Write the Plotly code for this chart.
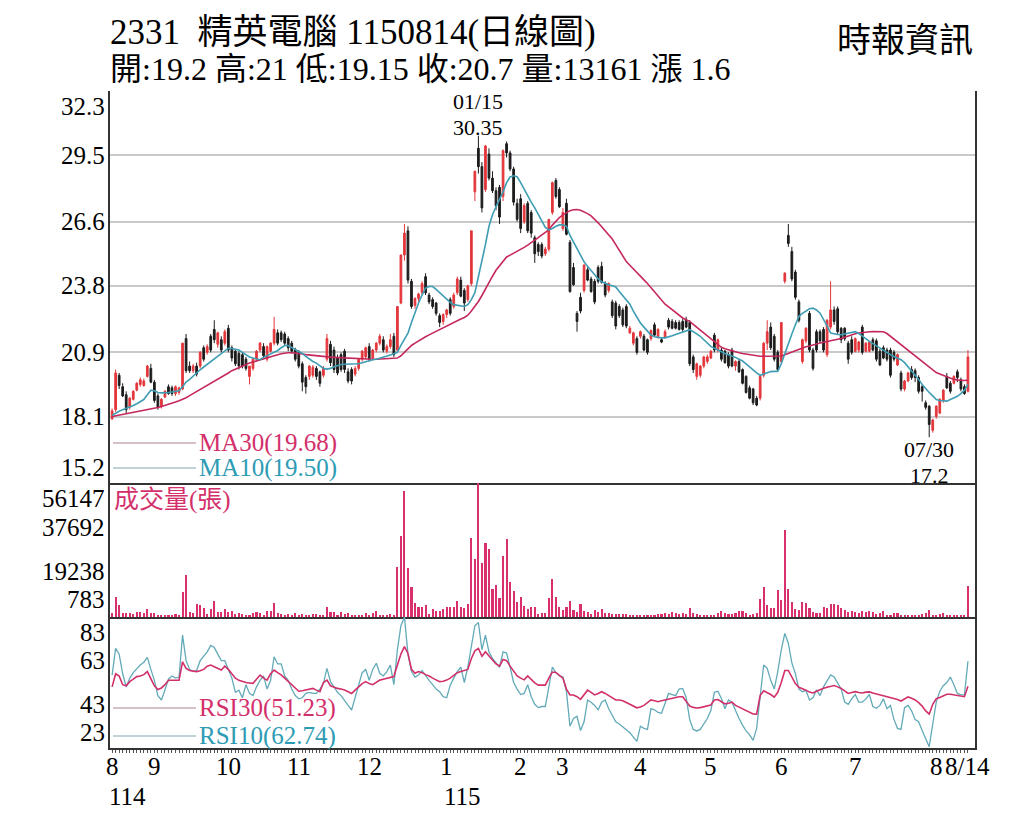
import pandas as pd
import plotly.graph_objects as go
from plotly.subplots import make_subplots

# --- trading days, 2025-08-14 .. 2026-08-14 (TWSE closed days removed) ---
HOLIDAYS = [
    "2025-09-29", "2025-10-06", "2025-10-10", "2025-10-24", "2025-12-25",
    "2026-01-01", "2026-02-12", "2026-02-13", "2026-02-16", "2026-02-17",
    "2026-02-18", "2026-02-19", "2026-02-20", "2026-02-27", "2026-04-03",
    "2026-04-06", "2026-05-01", "2026-06-19",
]
dates = [d.strftime("%Y-%m-%d") for d in pd.bdate_range("2025-08-14", "2026-08-14")
         if d.strftime("%Y-%m-%d") not in HOLIDAYS]

tick_dates = ["2025-08-14", "2025-09-01", "2025-10-01", "2025-11-03", "2025-12-01",
              "2026-01-02", "2026-02-02", "2026-03-02", "2026-04-01", "2026-05-04",
              "2026-06-01", "2026-07-01", "2026-08-03", "2026-08-14"]
tick_text = ["8", "9", "10", "11", "12", "1", "2", "3", "4", "5", "6", "7", "8", "8/14"]
year_dates = ["2025-08-14", "2026-01-02"]
year_text = ["114", "115"]

price_ticks = [32.3, 29.5, 26.6, 23.8, 20.9, 18.1, 15.2]
vol_ticks = [56147, 37692, 19238, 783]
rsi_ticks = [83, 63, 43, 23]

opens = [
    18.0, 18.4, 19.9, 19.4, 19.05, 18.5, 18.85, 19.25, 19.5, 19.45, 19.85, 20.2,  # aug
    19.6, 19.0, 18.55, 18.95, 19.4, 19.35, 19.1, 19.15, 19.3, 21.5, 20.3, 20.1, 20.3, 20.3,
    21.1, 20.9, 21.6, 21.9, 21.25, 21.45, 21.3,  # sep
    21.95, 21.1, 20.95, 20.85, 20.8, 20.6, 19.85, 20.2, 20.6, 21.0, 21.15, 20.6, 20.95, 21.3,
    21.75, 21.75, 21.7, 21.5, 21.3, 21.0,  # oct
    20.9, 20.4, 19.8, 19.85, 19.9, 20.2, 20.05, 19.9, 20.6, 21.25, 21.0, 20.65, 20.8, 20.95,
    20.05, 20.15, 19.95, 20.2, 20.6, 20.7,  # nov
    21.15, 20.65, 21.0, 21.3, 21.45, 20.95, 21.15, 21.6, 21.0, 23.05, 25.15, 26.2, 24.0, 22.95,
    23.25, 23.5, 24.2, 23.4, 23.2, 23.05, 22.5, 22.25,  # dec
    22.55, 23.2, 22.9, 23.5, 24.05, 23.6, 23.2, 23.9, 27.9, 29.8, 29.0, 28.0, 29.55, 28.5,
    27.95, 28.1, 27.7, 30.0, 29.6, 28.9, 27.4,  # jan
    27.6, 26.6, 27.4, 27.0, 25.9, 25.6, 25.6, 25.2, 25.4, 27.0, 28.4, 28.0,  # feb
    26.3, 27.4, 25.7, 24.6, 22.6, 23.3, 23.6, 24.5, 24.1, 24.0, 24.6, 24.65, 23.9, 23.6,
    23.1, 23.05, 22.9, 22.75, 22.9, 21.75, 21.3, 21.5,  # mar
    21.6, 21.6, 21.45, 21.5, 22.1, 21.6, 21.45, 21.55, 22.3, 22.25, 22.2, 22.2, 22.25, 22.3,
    22.2, 20.7, 19.85, 19.9, 20.3, 20.5,  # apr
    20.65, 21.65, 21.0, 21.0, 20.95, 20.8, 21.0, 20.3, 20.5, 20.15, 19.85, 19.35, 19.3, 18.9,
    18.9, 19.9, 21.3, 22.0, 21.6, 20.9,  # may
    20.5, 24.0, 26.0, 25.3, 24.4, 23.1, 20.5, 21.4, 22.6, 21.0, 21.8, 21.8, 21.9, 20.8,
    22.0, 22.75, 22.8, 21.95, 21.95, 21.3, 21.45,  # jun
    20.95, 21.0, 22.0, 20.95, 20.95, 21.45, 21.4, 20.95, 21.1, 21.0, 21.0, 20.9, 20.35, 20.0,
    19.3, 19.65, 20.15, 20.1, 19.8, 19.4, 18.7, 18.55, 17.5,  # jul
    18.1, 18.25, 18.8, 19.85, 19.55, 19.55, 20.05, 19.7, 19.4, 19.2,  # aug
]
highs = [
    18.45, 20.15, 20.0, 19.55, 19.2, 18.95, 19.25, 19.6, 19.8, 19.75, 20.35, 20.4,
    19.7, 19.1, 18.9, 19.25, 19.5, 19.45, 19.45, 19.4, 21.3, 21.7, 20.5, 20.4, 20.45, 20.95,
    21.2, 21.25, 21.7, 22.3, 21.8, 21.6, 21.9,
    22.1, 21.2, 21.0, 20.95, 20.9, 20.7, 20.3, 20.65, 21.0, 21.35, 21.3, 21.2, 21.35, 22.45,
    21.9, 21.85, 21.8, 21.6, 21.4, 21.1,
    21.0, 20.5, 19.9, 20.35, 20.35, 20.3, 20.1, 20.3, 21.7, 21.4, 21.15, 20.8, 20.9, 21.05,
    20.2, 20.25, 20.3, 20.65, 21.0, 21.15,
    21.3, 21.05, 21.35, 21.7, 21.6, 21.25, 21.7, 21.75, 22.9, 25.15, 26.5, 26.4, 24.1, 23.3,
    23.5, 24.0, 24.35, 23.5, 23.3, 23.1, 22.6, 22.6,
    22.8, 23.3, 23.5, 24.2, 24.2, 23.7, 23.85, 26.2, 28.8, 30.35, 29.2, 29.95, 29.8, 28.8,
    28.1, 28.2, 29.75, 30.1, 29.7, 29.0, 27.6,
    27.8, 27.4, 27.5, 27.1, 26.0, 25.7, 25.7, 25.5, 26.7, 28.35, 28.5, 28.1,
    27.2, 27.6, 25.8, 24.8, 22.7, 23.5, 24.75, 24.6, 24.2, 24.1, 24.7, 24.85, 24.0, 23.95,
    23.2, 23.15, 23.0, 22.85, 23.0, 22.05, 21.8, 21.6,
    21.85, 21.7, 21.5, 21.9, 22.2, 21.95, 21.55, 21.9, 22.4, 22.35, 22.3, 22.3, 22.35, 22.45,
    22.3, 20.8, 20.45, 20.35, 20.75, 20.8,
    21.0, 21.75, 21.5, 21.1, 21.0, 20.9, 21.1, 20.55, 20.6, 20.2, 19.9, 19.45, 19.35, 19.0,
    19.9, 21.35, 22.3, 22.2, 21.7, 21.0,
    22.2, 24.4, 26.5, 25.5, 24.5, 23.2, 21.5, 22.0, 22.7, 21.1, 21.9, 21.9, 22.0, 22.35,
    24.0, 22.9, 22.9, 22.0, 22.0, 21.4, 21.6,
    21.55, 21.4, 22.1, 21.35, 21.4, 21.55, 21.5, 21.05, 21.2, 21.1, 21.1, 21.0, 20.85, 20.1,
    19.7, 20.05, 20.3, 20.2, 19.9, 19.5, 18.8, 18.6, 18.0,
    18.6, 18.9, 19.3, 20.0, 19.65, 19.9, 20.15, 19.8, 19.5, 21.0,
]
lows = [
    17.95, 18.3, 19.3, 18.95, 18.25, 18.4, 18.8, 19.2, 19.4, 19.4, 19.8, 19.55,
    18.7, 18.4, 18.45, 18.9, 19.05, 19.0, 19.0, 19.05, 19.25, 20.0, 20.0, 20.0, 19.85, 20.2,
    20.5, 20.8, 20.9, 21.3, 21.1, 20.9, 21.2,
    20.9, 20.5, 20.3, 20.15, 20.2, 20.1, 19.5, 20.1, 20.5, 20.9, 20.6, 20.5, 20.9, 21.2,
    21.2, 21.35, 21.2, 20.95, 20.85, 20.5,
    20.2, 19.2, 19.1, 19.7, 19.8, 19.7, 19.4, 19.8, 20.5, 20.3, 20.0, 19.9, 20.05, 20.0,
    19.55, 19.5, 19.85, 20.1, 20.5, 20.6,
    20.5, 20.55, 20.9, 21.2, 20.9, 20.85, 21.05, 20.7, 20.9, 23.0, 24.9, 23.9, 22.8, 22.8,
    23.1, 23.4, 23.4, 23.0, 22.8, 22.5, 22.0, 22.1,
    22.4, 22.5, 22.8, 23.4, 23.3, 22.7, 23.1, 23.8, 27.5, 28.7, 27.0, 27.9, 28.4, 27.85,
    27.1, 26.5, 27.5, 29.4, 28.8, 27.3, 26.6,
    26.1, 26.5, 26.1, 25.9, 24.8, 25.1, 25.0, 25.1, 25.3, 26.9, 27.6, 27.2,
    26.2, 26.0, 23.5, 23.8, 21.8, 22.6, 23.5, 24.0, 23.5, 23.0, 23.9, 23.9, 23.3, 23.5,
    22.4, 21.9, 22.4, 22.0, 21.95, 21.7, 21.2, 20.8,
    21.5, 20.95, 20.8, 21.4, 21.6, 21.5, 21.3, 21.5, 21.9, 21.9, 21.9, 21.85, 21.8, 21.95,
    20.3, 20.0, 19.7, 19.8, 20.2, 20.4,
    20.6, 20.9, 20.9, 20.5, 20.4, 20.2, 20.25, 20.1, 20.0, 19.5, 19.1, 18.85, 18.6, 18.55,
    18.8, 19.8, 21.0, 21.0, 20.5, 20.1,
    20.4, 23.9, 25.5, 24.0, 23.2, 22.2, 20.4, 21.3, 20.9, 20.1, 20.9, 21.3, 20.9, 20.7,
    21.9, 22.1, 21.7, 21.3, 21.4, 20.4, 20.8,
    20.9, 20.9, 20.8, 20.9, 20.9, 20.95, 20.5, 20.3, 20.6, 20.5, 19.8, 20.5, 20.3, 19.2,
    19.2, 19.6, 19.7, 19.6, 19.1, 18.75, 18.4, 17.2, 17.4,
    18.0, 18.2, 18.7, 19.3, 19.1, 19.5, 19.6, 19.2, 19.05, 19.15,
]
closes = [
    18.35, 20.0, 19.45, 19.0, 18.4, 18.9, 19.2, 19.55, 19.7, 19.65, 20.3, 19.6,
    18.8, 18.5, 18.85, 19.2, 19.1, 19.1, 19.4, 19.35, 21.3, 20.1, 20.1, 20.3, 19.95, 20.9,
    20.6, 21.15, 21.0, 21.45, 21.75, 21.0, 21.8,
    21.0, 20.65, 20.4, 20.3, 20.3, 20.2, 20.3, 20.6, 20.95, 21.3, 20.75, 21.15, 21.3, 21.9,
    21.3, 21.45, 21.3, 21.1, 20.95, 20.6,
    20.3, 19.6, 19.4, 20.3, 20.25, 19.85, 19.55, 20.2, 21.5, 20.45, 20.15, 20.0, 20.15, 20.15,
    19.65, 19.65, 20.2, 20.6, 20.95, 21.1,
    20.6, 21.0, 21.3, 21.6, 21.0, 21.15, 21.45, 20.8, 22.9, 25.15, 26.1, 24.05, 22.9, 23.25,
    23.45, 23.9, 23.5, 23.1, 22.9, 22.6, 22.2, 22.55,
    22.75, 22.6, 23.4, 24.1, 23.35, 23.05, 23.8, 26.2, 28.8, 29.0, 27.2, 29.9, 28.5, 27.95,
    27.3, 26.8, 29.7, 29.6, 28.9, 27.45, 26.7,
    26.3, 27.3, 26.2, 26.1, 25.2, 25.3, 25.1, 25.4, 26.7, 28.3, 27.7, 27.25,
    27.0, 26.05, 23.55, 23.85, 22.25, 22.7, 24.7, 24.05, 23.55, 23.1, 24.0, 23.95, 23.4, 23.9,
    22.5, 22.05, 22.5, 22.1, 22.05, 21.95, 21.75, 20.9,
    21.8, 21.0, 20.9, 21.85, 21.65, 21.9, 21.35, 21.8, 22.0, 21.95, 21.95, 21.9, 21.9, 22.0,
    20.4, 20.15, 20.4, 20.3, 20.7, 20.7,
    20.95, 21.0, 21.45, 20.6, 20.45, 20.3, 20.3, 20.5, 20.05, 19.55, 19.15, 18.9, 18.7, 18.6,
    19.85, 21.3, 21.8, 21.1, 20.6, 20.15,
    22.2, 24.35, 25.65, 24.1, 23.3, 22.3, 21.45, 21.95, 21.0, 20.2, 21.0, 21.4, 21.0, 22.3,
    22.75, 22.25, 21.8, 21.45, 21.5, 20.6, 20.9,
    21.5, 21.35, 20.9, 21.3, 21.35, 21.0, 20.6, 20.35, 20.65, 20.6, 19.9, 20.6, 20.8, 19.3,
    19.65, 20.0, 19.8, 19.8, 19.2, 19.2, 18.5, 17.75, 17.95,
    18.55, 18.85, 19.25, 19.35, 19.2, 19.85, 19.8, 19.3, 19.1, 20.7,
]
volumes = [
    1500, 8500, 5000, 1500, 1800, 1500, 1200, 2100, 2100, 1500,
    3500, 1800, 1800, 1000, 850, 1000, 850, 1000, 1200, 1000,
    10500, 17500, 2100, 1800, 5500, 5000, 3600, 1200, 3200, 6800,
    2200, 2200, 3500, 2200, 2400, 1200, 1500, 1200, 850, 1000,
    1800, 2100, 1800, 1000, 2600, 2400, 6000, 1500, 1200, 1000,
    1200, 1000, 1500, 850, 1200, 1000, 1000, 1200, 1200, 1000,
    1000, 4300, 2200, 2100, 1000, 2100, 1200, 1500, 850, 850,
    1000, 850, 1500, 850, 1800, 2400, 800, 850, 850, 1200,
    900, 20800, 34000, 52800, 20400, 12400, 6000, 4300, 4000, 4900,
    1200, 3500, 2400, 2700, 3500, 4000, 4000, 4000, 6600, 4300,
    3800, 5400, 33000, 24200, 56147, 22800, 31100, 28400, 11900, 13300,
    8000, 25600, 32700, 14800, 11000, 6400, 8200, 4700, 3200, 4000,
    4300, 1200, 1500, 1500, 7800, 15900, 8200, 4300, 2900, 4300,
    6800, 2900, 2100, 5300, 2400, 2200, 1200, 2800, 2200, 3200,
    1800, 1500, 1200, 1200, 1200, 1100, 1100, 1000, 850, 1000,
    850, 800, 1000, 1000, 1000, 1200, 1100, 1800, 1400, 1900,
    1500, 1400, 1800, 1400, 3800, 1800, 1200, 850, 783, 850,
    800, 850, 1800, 2700, 1800, 1200, 1200, 1500, 2700, 2400,
    1800, 850, 1200, 1500, 7700, 12400, 5200, 3800, 3600, 11300,
    7100, 36500, 11900, 6400, 3200, 2900, 6300, 6000, 3600, 2200,
    1800, 1800, 4300, 3800, 5400, 5400, 5200, 3600, 2900, 2100,
    2700, 2100, 1800, 2400, 2100, 2400, 2200, 1200, 1500, 2700,
    1000, 850, 1800, 1500, 850, 800, 800, 800, 800, 850,
    1200, 1500, 2900, 800, 850, 1200, 1500, 850, 850, 1000,
    1000, 1000, 1000, 13161,
]
ma10 = [
    18.15, 18.25, 18.33, 18.40, 18.45, 18.50, 18.58, 18.66, 18.75, 18.84,
    19.05, 19.25, 19.22, 19.15, 19.13, 19.13, 19.15, 19.17, 19.19, 19.22,
    19.40, 19.60, 19.72, 19.87, 20.00, 20.14, 20.26, 20.38, 20.50, 20.63,
    20.75, 20.88, 20.98, 21.08, 21.07, 21.04, 21.00, 20.90, 20.80, 20.70,
    20.65, 20.60, 20.58, 20.68, 20.75, 20.82, 20.90, 20.98, 21.10, 21.20,
    21.20, 21.12, 21.02, 20.95, 20.85, 20.72, 20.60, 20.50, 20.43, 20.30,
    20.20, 20.17, 20.20, 20.27, 20.33, 20.37, 20.38, 20.38, 20.37, 20.37,
    20.40, 20.45, 20.50, 20.55, 20.58, 20.60, 20.64, 20.68, 20.72, 20.78,
    20.84, 20.90, 21.20, 21.45, 21.74, 22.20, 22.65, 23.05, 23.40, 23.70,
    23.77, 23.77, 23.65, 23.50, 23.34, 23.20, 23.08, 22.98, 22.95, 22.92,
    22.90, 22.98, 23.20, 23.50, 24.20, 24.80, 25.60, 26.40, 26.90, 27.25,
    27.54, 27.90, 28.30, 28.55, 28.60, 28.56, 28.30, 28.00, 27.70, 27.45,
    27.20, 26.90, 26.60, 26.35, 26.24, 26.30, 26.40, 26.46, 26.46, 26.40,
    26.00, 25.70, 25.40, 25.10, 24.85, 24.65, 24.45, 24.28, 24.10, 23.98,
    23.90, 23.85, 23.80, 23.75, 23.55, 23.35, 23.15, 23.00, 22.70, 22.45,
    22.18, 22.00, 21.80, 21.65, 21.58, 21.54, 21.53, 21.53, 21.56, 21.62,
    21.68, 21.74, 21.80, 21.86, 21.89, 21.80, 21.70, 21.60, 21.45, 21.30,
    21.16, 21.08, 21.00, 20.92, 20.85, 20.80, 20.75, 20.68, 20.60, 20.52,
    20.40, 20.26, 20.12, 20.00, 19.90, 19.95, 20.02, 20.06, 20.07, 20.07,
    20.40, 20.85, 21.30, 21.70, 22.10, 22.47, 22.60, 22.70, 22.80, 22.83,
    22.75, 22.61, 22.35, 22.05, 21.74, 21.70, 21.68, 21.67, 21.70, 21.74,
    21.78, 21.80, 21.72, 21.62, 21.50, 21.38, 21.28, 21.18, 21.08, 20.98,
    20.87, 20.80, 20.72, 20.65, 20.58, 20.45, 20.28, 20.10, 19.92, 19.72,
    19.50, 19.30, 19.15, 19.00, 18.84, 18.80, 18.77, 18.77, 18.84, 18.91,
    18.98, 19.10, 19.25, 19.50,
]
ma30 = [
    18.10, 18.13, 18.16, 18.19, 18.22, 18.25, 18.27, 18.30, 18.33, 18.36,
    18.38, 18.40, 18.45, 18.49, 18.54, 18.58, 18.63, 18.68, 18.73, 18.79,
    18.84, 18.92, 19.01, 19.10, 19.18, 19.27, 19.36, 19.44, 19.53, 19.62,
    19.70, 19.80, 19.90, 20.00, 20.10, 20.17, 20.24, 20.30, 20.37, 20.43,
    20.48, 20.52, 20.56, 20.61, 20.65, 20.70, 20.74, 20.79, 20.84, 20.87,
    20.88, 20.88, 20.87, 20.85, 20.83, 20.80, 20.78, 20.76, 20.74, 20.72,
    20.71, 20.70, 20.69, 20.68, 20.67, 20.66, 20.65, 20.64, 20.63, 20.62,
    20.61, 20.60, 20.60, 20.60, 20.60, 20.60, 20.61, 20.61, 20.62, 20.62,
    20.63, 20.65, 20.75, 20.90, 21.05, 21.20, 21.30, 21.40, 21.50, 21.58,
    21.66, 21.74, 21.82, 21.89, 21.96, 22.04, 22.12, 22.19, 22.27, 22.35,
    22.42, 22.52, 22.70, 22.90, 23.12, 23.38, 23.68, 23.95, 24.22, 24.48,
    24.68, 24.88, 25.06, 25.14, 25.22, 25.30, 25.37, 25.48, 25.58, 25.68,
    25.78, 25.90, 26.02, 26.13, 26.24, 26.45, 26.62, 26.78, 26.90, 27.00,
    27.08, 27.12, 27.13, 27.10, 27.04, 26.95, 26.85, 26.72, 26.55, 26.38,
    26.20, 26.02, 25.84, 25.60, 25.35, 25.10, 24.86, 24.70, 24.55, 24.38,
    24.22, 24.06, 23.90, 23.72, 23.54, 23.36, 23.18, 23.00, 22.88, 22.76,
    22.64, 22.50, 22.40, 22.32, 22.25, 22.12, 21.99, 21.86, 21.73, 21.60,
    21.48, 21.36, 21.24, 21.12, 21.06, 21.01, 20.96, 20.92, 20.88, 20.85,
    20.82, 20.80, 20.77, 20.75, 20.73, 20.73, 20.73, 20.73, 20.73, 20.73,
    20.74, 20.80, 20.86, 20.92, 20.98, 21.05, 21.10, 21.14, 21.18, 21.23,
    21.27, 21.31, 21.34, 21.37, 21.40, 21.43, 21.45, 21.50, 21.56, 21.62,
    21.68, 21.71, 21.74, 21.77, 21.80, 21.80, 21.81, 21.81, 21.81, 21.80,
    21.72, 21.60, 21.48, 21.37, 21.25, 21.13, 21.00, 20.88, 20.76, 20.64,
    20.52, 20.40, 20.28, 20.15, 20.02, 19.96, 19.90, 19.84, 19.78, 19.72,
    19.70, 19.68, 19.67, 19.68,
]
rsi10 = [
    56.4, 68.6, 66, 57, 51, 54.9, 57.5, 59.5, 61, 62.3,
    64.5, 59, 54, 47, 45, 49.6, 54.5, 56, 55, 55.5,
    74.7, 63, 59, 58, 58.5, 63, 65, 67, 70, 69,
    66, 63, 63, 59, 55, 48.5, 49.5, 46, 52, 48,
    47, 51, 54, 56, 50, 54, 64.8, 61.5, 61.5, 56,
    54, 50, 47, 45.5, 46, 48, 48.5, 48, 48, 50,
    52.6, 59.5, 53.4, 51, 48.5, 47, 45, 42.5, 40.4, 46,
    51, 57.5, 59, 54, 59, 61.8, 57.2, 56, 58, 61,
    52, 68, 79, 83, 66, 58, 55.5, 56.4, 58.5, 56,
    54, 52, 50, 48.8, 46.5, 46, 51.8, 55, 58, 60,
    53, 60, 69, 79, 80.5, 68, 74.7, 67, 64, 62,
    60, 67, 66.5, 60, 53, 50, 47.5, 48, 52, 46.5,
    43, 41.5, 42, 42, 52, 60, 57.5, 56, 55.5, 48.8,
    33, 36.5, 37.5, 31, 35, 45, 44, 42.5, 40.5, 44,
    45, 41, 38, 35, 34, 32.8, 31.2, 30, 28, 26,
    33, 32, 31.5, 41, 40.5, 39.3, 38.9, 43, 48, 47.5,
    47, 50, 50.3, 46, 36, 31.5, 30.8, 31.5, 33.8, 36.5,
    40.2, 48.5, 49, 45.7, 41, 45, 44, 40, 36.5, 33.5,
    30.8, 29, 26.5, 32, 48, 61, 59.5, 54, 50, 58,
    68, 75.5, 71, 62, 57, 50, 48.8, 49.4, 45, 46,
    49.6, 47, 51, 54, 56.5, 55.5, 52.5, 50, 44, 43,
    45.5, 47.5, 44, 44, 45.5, 47.5, 42, 41.2, 42.5, 45.5,
    41, 42.5, 36, 32, 31.5, 41.5, 42.5, 40, 36, 35,
    31, 27, 23.6, 34, 44, 49, 51.5, 53, 55.5, 52,
    48, 47.3, 47.3, 62.74,
]
rsi30 = [
    51, 57, 56, 52, 51.5, 53.4, 54.5, 55.7, 56, 56.6,
    58, 55, 51.5, 49.8, 50.5, 52, 54, 54, 54.1, 54,
    62.5, 59.5, 58.5, 58.2, 58, 58.4, 59, 60.5, 61, 60.2,
    59.5, 58.7, 60.5, 59, 57, 55, 54, 53.4, 53, 52.8,
    52.6, 54.5, 56.4, 55, 54.1, 57, 58.7, 57.5, 56.5, 55,
    53.5, 52, 50.5, 49, 49.2, 49.6, 50, 50.3, 49.5, 48.8,
    53, 54.1, 51.5, 50.8, 50.3, 50, 49.6, 48.8, 48, 49.5,
    51, 52.5, 53.4, 52.5, 52, 53, 54.1, 54.5, 54.9, 55.5,
    55.7, 61, 66, 69.4, 66.3, 59, 57.2, 58, 57.5, 56.6,
    56, 55, 54, 53.4, 53.6, 54.1, 55, 56.4, 57.5, 58,
    58.5, 59, 64, 67.5, 68.6, 65, 67.1, 65, 63.3, 61.5,
    60.5, 63.5, 63, 60.5, 58.5, 56, 55, 54.2, 56, 54.5,
    52.8, 51.8, 51.8, 51.8, 55, 57.8, 57.6, 56.5, 55, 50,
    47.3, 47.3, 46.5, 45.3, 47.5, 49.5, 48.5, 47.3, 48, 48.8,
    48, 47, 46, 45, 45, 44.6, 43.8, 43, 42.3, 41.4,
    41.8, 42.5, 43.8, 45, 44.6, 44.2, 44.6, 45, 45.4, 45.8,
    46.1, 46.5, 46.5, 44.5, 42.2, 41.6, 41.3, 41.5, 41.8, 42.3,
    42.7, 45, 45.2, 44.2, 43.2, 43.5, 44, 42.5, 41.7, 40.8,
    40, 39.3, 38.6, 38.5, 47, 49.2, 48.5, 47.5, 46.3, 48.5,
    53, 58.5, 58.5, 55.5, 52.5, 50.8, 50.3, 49.5, 48.6, 48.2,
    49, 49.8, 50.4, 50.8, 51.3, 51.6, 51, 50.3, 49.2, 48,
    48.4, 48.8, 48.4, 48.2, 48.6, 48.7, 48.2, 47.8, 47.5, 47.1,
    46.6, 46.2, 45.8, 45.2, 44.5, 45.5, 46.4, 45.8, 45, 43.8,
    42.2, 40, 38.5, 43, 45.6, 46.1, 46.8, 47.6, 47.6, 47.3,
    47.1, 46.6, 46.5, 51.23,
]

# --- styling ---
# the page adds an 8px body margin, so the figure is 16px smaller than the window
PAGE_W, PAGE_H, BODY = 1024, 819, 8
PLOT_L, PLOT_R, PLOT_T, PLOT_B = 110, 975, 91, 748   # plot area in page pixels
SERIF = "Liberation Serif, Times New Roman, Noto Sans CJK TC, serif"
RED = "#e3373c"
BLACK = "#1c1c1c"
MA30_C = "#c4285c"
MA10_C = "#3e9db3"
VOL_C = "#d8306c"
RSI30_C = "#d1306a"
RSI10_C = "#62aab8"
TXT_PINK = "#d3306b"
TXT_TEAL = "#2e9bb5"
AXIS_C = "#333333"


def px_x(x):
    return (x - PLOT_L) / (PLOT_R - PLOT_L)


def px_y(y):
    return (PLOT_B - y) / (PLOT_B - PLOT_T)


fig = make_subplots(rows=3, cols=1, shared_xaxes=True, vertical_spacing=0,
                    row_heights=[392, 134, 131])

fig.add_trace(go.Candlestick(
    x=dates, open=opens, high=highs, low=lows, close=closes,
    increasing=dict(line=dict(color=RED, width=1), fillcolor=RED),
    decreasing=dict(line=dict(color=BLACK, width=1), fillcolor=BLACK),
    whiskerwidth=0, showlegend=False, hoverinfo="skip",
), row=1, col=1)
fig.add_trace(go.Scatter(x=dates, y=ma30, mode="lines", line=dict(color=MA30_C, width=1.6),
                         showlegend=False, hoverinfo="skip"), row=1, col=1)
fig.add_trace(go.Scatter(x=dates, y=ma10, mode="lines", line=dict(color=MA10_C, width=1.6),
                         showlegend=False, hoverinfo="skip"), row=1, col=1)
fig.add_trace(go.Bar(x=dates, y=volumes, marker=dict(color=VOL_C, line=dict(width=0)),
                     width=0.6, showlegend=False, hoverinfo="skip"), row=2, col=1)
fig.add_trace(go.Scatter(x=dates, y=rsi10, mode="lines", line=dict(color=RSI10_C, width=1.3),
                         showlegend=False, hoverinfo="skip"), row=3, col=1)
fig.add_trace(go.Scatter(x=dates, y=rsi30, mode="lines", line=dict(color=RSI30_C, width=1.6),
                         showlegend=False, hoverinfo="skip"), row=3, col=1)

fig.update_xaxes(type="category", range=[-0.6, 245], showgrid=False, zeroline=False,
                 showline=True, linecolor=AXIS_C, linewidth=1.5,
                 rangeslider_visible=False, ticks="", showticklabels=False)
fig.update_xaxes(row=3, col=1, tickmode="array", tickvals=dates, ticks="outside",
                 ticklen=3, tickwidth=1, tickcolor="#555555")
fig.update_yaxes(showline=True, mirror=True, linecolor=AXIS_C, linewidth=1.5,
                 ticks="", showticklabels=False, zeroline=False, showgrid=False)
fig.update_yaxes(row=1, col=1, range=[15.2, 32.3], tickmode="array", tickvals=price_ticks,
                 showgrid=True, gridcolor="#c9c9c9", gridwidth=1.5)
fig.update_yaxes(row=2, col=1, range=[0, 56147])
fig.update_yaxes(row=3, col=1, range=[23, 83])

ann = []


def axis_labels(values, yref, size=25):
    for i, v in enumerate(values):
        anchor = "top" if i == 0 else ("bottom" if i == len(values) - 1 else "middle")
        ann.append(dict(x=0, xref="paper", xanchor="right", xshift=-3, y=v, yref=yref,
                        yanchor=anchor, text=str(v), showarrow=False,
                        font=dict(family=SERIF, size=size, color="black")))


axis_labels(price_ticks, "y")
axis_labels(vol_ticks, "y2")
axis_labels(rsi_ticks, "y3")

# month labels and ROC year under the date axis
for d, t in zip(tick_dates, tick_text):
    ann.append(dict(x=d, xref="x3", y=0, yref="paper", yanchor="middle", yshift=-18,
                    text=t, showarrow=False, font=dict(family=SERIF, size=25, color="black")))
for d, t in zip(year_dates, year_text):
    ann.append(dict(x=d, xref="x3", y=0, yref="paper", yanchor="middle", yshift=-48,
                    xanchor="left", xshift=-5, text=t, showarrow=False,
                    font=dict(family=SERIF, size=25, color="black")))

# header
ann.append(dict(x=px_x(108), y=px_y(32), xref="paper", yref="paper", xanchor="left",
                yanchor="middle", text="2331  精英電腦 1150814(日線圖)", showarrow=False,
                font=dict(family=SERIF, size=35, color="black")))
ann.append(dict(x=px_x(108), y=px_y(69), xref="paper", yref="paper", xanchor="left",
                yanchor="middle", text="開:19.2 高:21 低:19.15 收:20.7 量:13161 漲 1.6",
                showarrow=False, font=dict(family=SERIF, size=32, color="black")))
ann.append(dict(x=px_x(975), y=px_y(40), xref="paper", yref="paper", xanchor="right",
                yanchor="middle", text="時報資訊", showarrow=False,
                font=dict(family=SERIF, size=34, color="black")))

# high / low callouts (date on top, price underneath)
ann.append(dict(x="2026-01-15", y=30.35, xref="x", yref="y", yanchor="middle", yshift=8,
                text="30.35", showarrow=False, font=dict(family=SERIF, size=22, color="black")))
ann.append(dict(x="2026-01-15", y=30.35, xref="x", yref="y", yanchor="middle", yshift=34,
                text="01/15", showarrow=False, font=dict(family=SERIF, size=22, color="black")))
ann.append(dict(x="2026-07-30", y=17.2, xref="x", yref="y", yanchor="middle", yshift=-12,
                text="07/30", showarrow=False, font=dict(family=SERIF, size=22, color="black")))
ann.append(dict(x="2026-07-30", y=17.2, xref="x", yref="y", yanchor="middle", yshift=-38,
                text="17.2", showarrow=False, font=dict(family=SERIF, size=22, color="black")))

# legends
legend_items = [
    (443, "MA30(19.68)", TXT_PINK, "#c9aab6"),
    (468, "MA10(19.50)", TXT_TEAL, "#aac3c8"),
    (708, "RSI30(51.23)", TXT_PINK, "#c9aab6"),
    (736, "RSI10(62.74)", TXT_TEAL, "#aac3c8"),
]
shapes = []
for ypx, label, tcol, lcol in legend_items:
    shapes.append(dict(type="line", xref="paper", yref="paper", x0=px_x(113), x1=px_x(196),
                       y0=px_y(ypx), y1=px_y(ypx), line=dict(color=lcol, width=1.5)))
    ann.append(dict(x=px_x(197), y=px_y(ypx), xref="paper", yref="paper", xanchor="left",
                    yanchor="middle", text=label, showarrow=False,
                    font=dict(family=SERIF, size=25, color=tcol)))
ann.append(dict(x=px_x(112), y=px_y(500), xref="paper", yref="paper", xanchor="left",
                yanchor="middle", text="成交量(張)", showarrow=False,
                font=dict(family=SERIF, size=25, color=TXT_PINK)))

fig.update_layout(
    width=PAGE_W - 2 * BODY, height=PAGE_H - 2 * BODY,
    margin=dict(l=PLOT_L - BODY, r=PAGE_W - BODY - PLOT_R,
                t=PLOT_T - BODY, b=PAGE_H - BODY - PLOT_B, pad=0),
    paper_bgcolor="white", plot_bgcolor="white",
    showlegend=False, bargap=0,
    annotations=ann, shapes=shapes,
    font=dict(family=SERIF, color="black"),
)

fig.write_html("out.html")
